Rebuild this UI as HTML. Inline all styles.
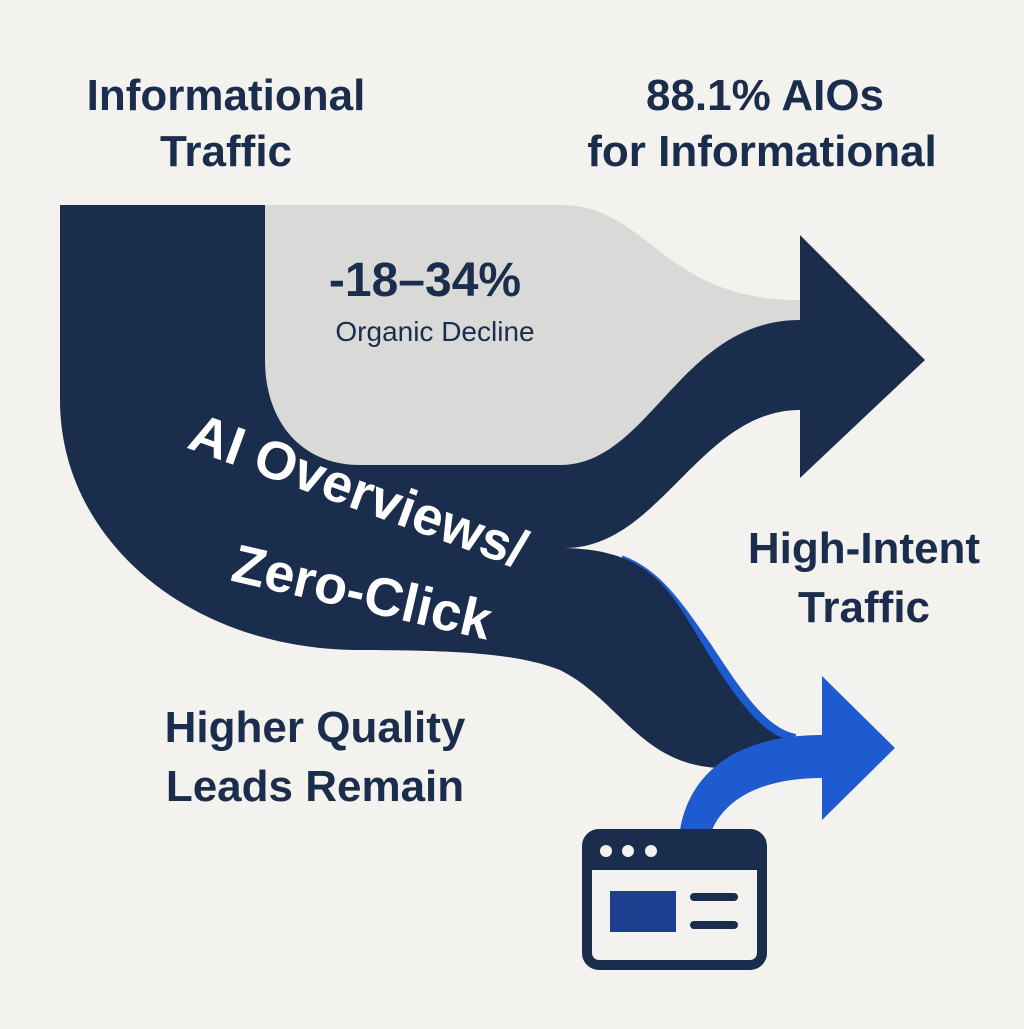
<!DOCTYPE html>
<html><head><style>body{margin:0;background:#f4f2ee}</style></head><body>
<svg width="1024" height="1024" viewBox="0 0 1024 1024" xmlns="http://www.w3.org/2000/svg" font-family="Liberation Sans, sans-serif" font-weight="bold">
<rect width="1024" height="1024" fill="#f4f2ee"/>
<path d="M265,205 L560,205 C650,205 660,300 800,300 L800,330 L600,470 L265,470 Z" fill="#d9d9d8"/>
<path d="M620,562 C655,575 675,605 703,645 C733,690 760,735 795,741" fill="none" stroke="#1f5bd0" stroke-width="14"/>
<path d="M60,205 L265,205 L265,360 C265,420 300,465 360,465 L560,465 C650,465 680,320 800,320 L800,235 L925,360 L800,478 L800,410 C700,410 660,548 565,548 C650,550 670,590 700,640 C730,690 760,735 790,740 L720,768 C640,765 620,700 560,670 C520,655 470,650 360,650 C190,650 60,540 60,400 Z" fill="#1b2d4d"/>
<path d="M680,830 C690,770 740,735 822,735 L822,676 L895,748 L822,820 L822,778 C760,778 725,800 712,830 Z" fill="#1f5bd0"/>
<rect x="587" y="834" width="175" height="131" rx="12" fill="#f4f2ee" stroke="#1b2d4d" stroke-width="10"/>
<rect x="587" y="834" width="175" height="36" fill="#1b2d4d"/>
<circle cx="606" cy="851" r="6" fill="#f4f2ee"/><circle cx="628" cy="851" r="6" fill="#f4f2ee"/><circle cx="651" cy="851" r="6" fill="#f4f2ee"/>
<rect x="610" y="891" width="66" height="41" fill="#1e3f8f"/>
<line x1="694" y1="897" x2="734" y2="897" stroke="#1b2d4d" stroke-width="8" stroke-linecap="round"/>
<line x1="694" y1="925" x2="734" y2="925" stroke="#1b2d4d" stroke-width="8" stroke-linecap="round"/>
<g fill="#1b2d4d" text-anchor="middle" font-size="44">
<text x="226" y="110">Informational</text><text x="226" y="166">Traffic</text>
<text x="765" y="110">88.1% AIOs</text><text x="762" y="166">for Informational</text>
<text x="864" y="563">High-Intent</text><text x="864" y="622">Traffic</text>
<text x="315" y="742">Higher Quality</text><text x="315" y="801">Leads Remain</text>
<text x="425" y="296" font-size="48">-18–34%</text>
<text x="435" y="341" font-size="28" font-weight="normal">Organic Decline</text>
</g>
<g fill="#ffffff" font-size="54" text-anchor="middle">
<text transform="translate(352,508) rotate(20)">AI Overviews/</text>
<text transform="translate(358,610) rotate(13)">Zero-Click</text>
</g>
</svg>
</body></html>
